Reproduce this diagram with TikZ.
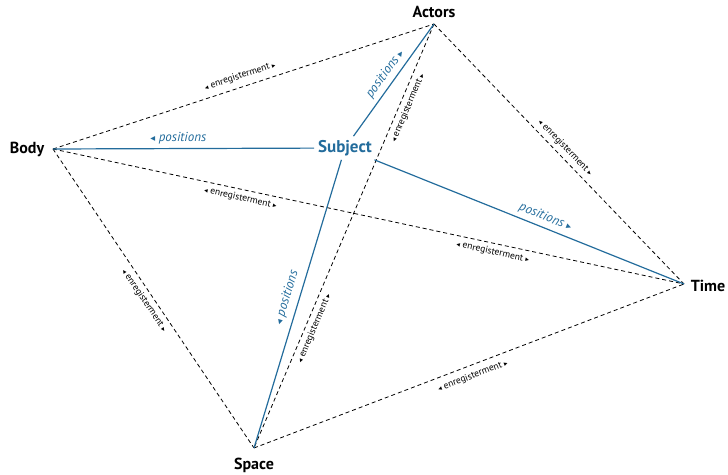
\documentclass[tikz,border=0pt]{standalone}
\usepackage{fontspec}
\setmainfont{PT Sans}
\newfontfamily\symfont{DejaVu Sans}
\definecolor{pblue}{HTML}{236C9C}
\newcommand{\lt}{{\symfont\scalebox{0.75}{◂}}}
\newcommand{\rt}{{\symfont\scalebox{0.75}{▸}}}
\begin{document}
\begin{tikzpicture}[x=1pt,y=1pt,
  corner/.style={font=\fontsize{16}{18}\selectfont\bfseries, inner sep=0pt},
  dline/.style={draw=black, line width=0.8pt, dash pattern=on 4pt off 3pt},
  bline/.style={draw=pblue, line width=1.2pt},
  enr/.style={sloped, font=\fontsize{9.5}{11}\selectfont, inner sep=1pt},
  posl/.style={sloped, font=\fontsize{13}{15}\selectfont\itshape, text=pblue, inner sep=1pt}]
\useasboundingbox (0,0) rectangle (728,474);
\coordinate (B) at (53,325);
\coordinate (A) at (434,450);
\coordinate (T) at (684,190);
\coordinate (S) at (254,26);
\node[corner] (bodyl) at (27,325) {Body};
\node[corner] (actorsl) at (434,462) {Actors};
\node[corner] (timel) at (708,188) {Time};
\node[corner] (spacel) at (254,9) {Space};
\node[font=\fontsize{17}{19}\selectfont\bfseries, text=pblue, inner sep=1pt, outer sep=3pt] (subj) at (345,326) {Subject};
% dashed
\draw[dline] (B) -- node[enr, pos=0.5, above=5pt] {\lt\ enregisterment \rt} (A);
\draw[dline] (B) -- node[enr, pos=0.3, below=3pt] {\lt\ enregisterment \rt}
                    node[enr, pos=0.7, below=3pt] {\lt\ enregisterment \rt} (T);
\draw[dline] (B) -- node[enr, pos=0.49, below=3pt] {\lt\ enregisterment \rt} (S);
\draw[dline] (A) -- node[enr, pos=0.5, above=3pt] {\lt\ enregisterment \rt} (T);
\draw[dline] (A) -- node[enr, pos=0.19, below=3pt] {\lt\ enregisterment \rt}
                    node[enr, pos=0.71, below=3pt] {\lt\ enregisterment \rt} (S);
\draw[dline] (S) -- node[enr, pos=0.5, below=5pt] {\lt\ enregisterment \rt} (T);
% blue
\draw[bline] (B) -- node[posl, pos=0.48, above=3pt] {\lt\ positions} (subj);
\draw[bline] (subj) -- node[posl, pos=0.5, above=3pt] {positions \rt} (A);
\draw[bline] (subj) -- node[posl, pos=0.54, above=3pt] {positions \rt} (T);
\draw[bline] (S) -- node[posl, pos=0.51, above=5pt] {\lt\ positions} (subj);
\end{tikzpicture}
\end{document}
